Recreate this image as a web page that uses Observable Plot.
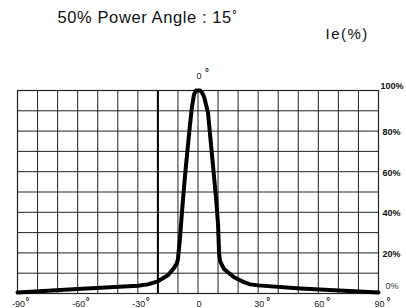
<!DOCTYPE html>
<html>
<head>
<meta charset="utf-8">
<script src="https://cdn.jsdelivr.net/npm/d3@7"></script>
<script src="https://cdn.jsdelivr.net/npm/@observablehq/plot@0.6"></script>
<style>
  html, body { margin: 0; padding: 0; background: #fff; }
  #chart svg { display: block; font-family: "Liberation Sans", Arial, sans-serif; }
</style>
</head>
<body>
<div id="chart"></div>
<script>
// Data
const angles = [-90, -60, -30, -25, -20, -15, -12, -10.5, -10, -9, -8, -7, -6, -5, -4, -3, -2, -1, 0, 1, 2, 3, 5, 7, 9, 10, 10.5, 11, 13, 18, 22, 26, 30, 51, 90];
const values = [0.5, 2.2, 3.8, 4.5, 6, 9, 12.5, 15, 17, 27, 40, 52, 63, 73, 83, 92, 98, 100, 100, 100, 99, 97, 89, 68, 47, 34, 20, 16, 12, 8, 6, 4.5, 4, 2.5, 0.5];

const xTicks = [-90, -60, -30, 0, 30, 60, 90];
const xTickLabels = ["-90", "-60", "-30", "0", "30", "60", "90"];
const xDegree = ["°", "°", "°", "", "°", "°", "°"];
const yTicks = [0, 20, 40, 60, 80, 100];
const yTickLabels = ["0%", "20%", "40%", "60%", "80%", "100%"];
const xGrid = d3.range(-90, 91, 10);
const yGrid = d3.range(0, 101, 10);
const axisLine = -20;

const title = "50% Power Angle : 15";
const unitLabel = "Ie(%)";
const centerLabel = "0";

const curve = angles.map((a, i) => ({angle: a, value: values[i]}));
const xLab = xTicks.map((t, i) => ({t, label: xTickLabels[i], deg: xDegree[i]}));
const yLab = yTicks.map((t, i) => ({t, label: yTickLabels[i]}));

const chart = Plot.plot({
  width: 406,
  height: 308,
  marginLeft: 17,
  marginRight: 28,
  marginTop: 90,
  marginBottom: 15,
  x: {domain: [-90, 90], axis: null},
  y: {domain: [0, 100], axis: null},
  style: {fontFamily: "Liberation Sans, Arial, sans-serif", background: "#fff"},
  marks: [
    Plot.ruleX(xGrid, {stroke: "#222", strokeWidth: 1}),
    Plot.ruleY(yGrid, {stroke: "#222", strokeWidth: 1}),
    Plot.ruleX([axisLine], {stroke: "#000", strokeWidth: 2}),
    Plot.frame({stroke: "#222", strokeWidth: 1.2}),
    Plot.line(curve, {x: "angle", y: "value", stroke: "#000", strokeWidth: 4, strokeLinejoin: "round", strokeLinecap: "round"}),
    // x tick labels
    Plot.text(xLab, {x: "t", text: "label", frameAnchor: "bottom", lineAnchor: "top", dx: 1, dy: 7, fontSize: 9, fill: "#222"}),
    Plot.text(xLab, {x: "t", text: "deg", frameAnchor: "bottom", textAnchor: "start", lineAnchor: "top", dx: 8, dy: 4, fontSize: 10, fontWeight: "bold", fill: "#222"}),
    // y tick labels (right side)
    Plot.text(yLab.filter(d => d.t === 100), {y: "t", text: "label", frameAnchor: "right", textAnchor: "start", dx: 2, dy: -4, fontSize: 9, fontWeight: "bold", fill: "#111"}),
    Plot.text(yLab.filter(d => d.t > 0 && d.t < 100), {y: "t", text: "label", frameAnchor: "right", textAnchor: "start", dx: 4, dy: 1, fontSize: 9, fontWeight: "bold", fill: "#111"}),
    Plot.text(yLab.filter(d => d.t === 0), {y: "t", text: "label", frameAnchor: "right", textAnchor: "start", dx: 7, dy: -7, fontSize: 9, fill: "#333"}),
    // center label above the plot
    Plot.text([centerLabel], {x: 0, text: d => d, frameAnchor: "top", lineAnchor: "top", dx: 1, dy: -18, fontSize: 9, fill: "#222"}),
    Plot.text(["°"], {x: 0, text: d => d, frameAnchor: "top", textAnchor: "start", lineAnchor: "top", dx: 7, dy: -22, fontSize: 10, fontWeight: "bold", fill: "#222"}),
    // titles
    Plot.text([title], {frameAnchor: "top-left", textAnchor: "start", lineAnchor: "bottom", dx: 40, dy: -68, fontSize: 16.5, fill: "#111"}),
    Plot.text(["°"], {frameAnchor: "top-left", textAnchor: "start", lineAnchor: "top", dx: 215, dy: -80, fontSize: 10, fontWeight: "bold", fill: "#111"}),
    Plot.text([unitLabel], {frameAnchor: "top-left", textAnchor: "start", lineAnchor: "bottom", dx: 308, dy: -52, fontSize: 15, fill: "#111"})
  ]
});
// letter spacing for the wide header texts
d3.select(chart).selectAll("text").filter(function() { return this.textContent === title; }).attr("letter-spacing", 0.6);
d3.select(chart).selectAll("text").filter(function() { return this.textContent === unitLabel; }).attr("letter-spacing", 1.5);
document.getElementById("chart").appendChild(chart);
</script>
</body>
</html>
